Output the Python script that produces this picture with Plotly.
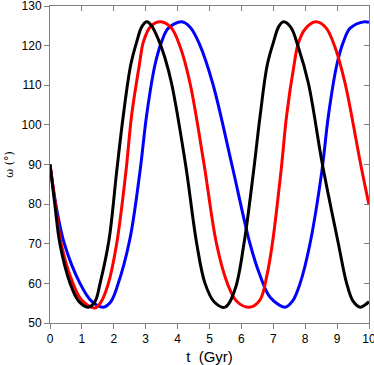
import plotly.graph_objects as go

# omega (deg) vs t (Gyr)
t_black = [0, 0.15, 0.31, 0.63, 0.9, 1.2, 1.41, 1.57, 1.85, 2.09, 2.30, 2.53, 2.72, 2.88,
           3.04, 3.2, 3.4, 3.6, 3.81, 4.25, 4.6, 4.86, 5.15, 5.49, 5.8, 6.08, 6.38, 6.59,
           6.81, 7.01, 7.17, 7.32, 7.55, 7.78, 8.1, 8.54, 9.04, 9.3, 9.5, 9.72, 9.88, 10]
w_black = [90, 80, 70, 60, 55.5, 54, 55.4, 60, 71, 88.2, 102.5, 115.1, 121, 124.8,
           126, 124.8, 121.5, 117, 110.5, 90, 70, 60, 55.3, 54, 58.5, 70, 88.2, 102.5,
           115.1, 121, 124.8, 126, 124.6, 119.7, 110.5, 90, 70, 60, 55.5, 54, 54.6, 55.4]

t_red = [0, 0.17, 0.35, 0.72, 1.0, 1.41, 1.6, 1.83, 2.09, 2.38, 2.56, 2.80, 2.93, 3.15,
         3.47, 3.8, 4.08, 4.39, 4.83, 5.22, 5.56, 5.85, 6.25, 6.58, 6.8, 6.97, 7.24,
         7.42, 7.65, 7.78, 8.0, 8.33, 8.65, 8.93, 9.25, 9.74, 10]
w_red = [90, 80, 70, 60, 55.7, 53.8, 55.3, 60, 70, 88.2, 102.5, 115.1, 121, 124.8,
         126, 124.5, 119.7, 110.5, 90, 70, 60, 55.5, 54, 55.8, 62, 70, 88.2,
         102.5, 115.1, 120.5, 124.2, 126, 124.5, 119.7, 110.5, 90, 79.8]

t_blue = [0, 0.18, 0.45, 0.94, 1.3, 1.67, 1.9, 2.12, 2.5, 2.82, 3.03, 3.29, 3.5, 3.71,
          4.13, 4.4, 4.68, 5.1, 5.7, 6.27, 6.58, 6.9, 7.37, 7.6, 7.84, 8.15, 8.52,
          8.73, 8.99, 9.2, 9.41, 9.83, 10]
w_blue = [90, 80, 70, 60, 55.5, 54, 55.3, 59.5, 71, 88.2, 102.5, 115.1, 121, 124.4,
          126, 124.6, 120.5, 110.5, 90, 70, 62.1, 56.5, 54, 55.5, 60, 70, 88.2,
          102.5, 115.1, 121, 124.4, 126, 125.9]

x_ticks = list(range(0, 11))
y_ticks = list(range(50, 131, 10))

fig = go.Figure()
for t, w, c in [(t_blue, w_blue, "#0000ff"), (t_red, w_red, "#ff0000"), (t_black, w_black, "#000000")]:
    fig.add_trace(go.Scatter(x=t, y=w, mode="lines", showlegend=False,
                             line=dict(color=c, width=3, shape="spline", smoothing=1.0)))

# dummy trace so the mirrored (inside-tick) axes get drawn
fig.add_trace(go.Scatter(x=[0], y=[50], xaxis="x2", yaxis="y2", mode="markers",
                         marker=dict(opacity=0), showlegend=False, hoverinfo="skip"))

tickfont = dict(family="Liberation Sans, Arial", size=12, color="black")
fig.update_layout(
    width=374, height=365,
    margin=dict(l=50, r=5, t=6, b=42),
    plot_bgcolor="white", paper_bgcolor="white",
    xaxis=dict(range=[0, 10], tickvals=x_ticks, ticks="outside", ticklen=5,
               tickcolor="#808080", showline=True, linecolor="#808080", mirror=True,
               showgrid=False, zeroline=False, tickfont=tickfont, ticklabeloverflow="allow",
               automargin=False,
               title=dict(text="t  (Gyr)", standoff=14,
                          font=dict(family="Liberation Sans, Arial", size=15, color="black"))),
    yaxis=dict(range=[50, 130], tickvals=y_ticks, ticks="outside", ticklen=5,
               tickcolor="#808080", showline=True, linecolor="#808080", mirror=True,
               showgrid=False, zeroline=False, tickfont=tickfont, ticklabeloverflow="allow",
               automargin=False,
               title=dict(text="ω (°)", standoff=5,
                          font=dict(family="DejaVu Serif", size=11, color="black"))),
    xaxis2=dict(range=[0, 10], tickvals=x_ticks, overlaying="x", side="top",
                ticks="inside", ticklen=5, tickcolor="#808080", showticklabels=False,
                showgrid=False, zeroline=False, showline=False, automargin=False),
    yaxis2=dict(range=[50, 130], tickvals=y_ticks, overlaying="y", side="right",
                ticks="inside", ticklen=5, tickcolor="#808080", showticklabels=False,
                showgrid=False, zeroline=False, showline=False, automargin=False),
)

fig.write_html("out.html", config={"displayModeBar": False},
               post_script="document.body.style.margin='0';")
